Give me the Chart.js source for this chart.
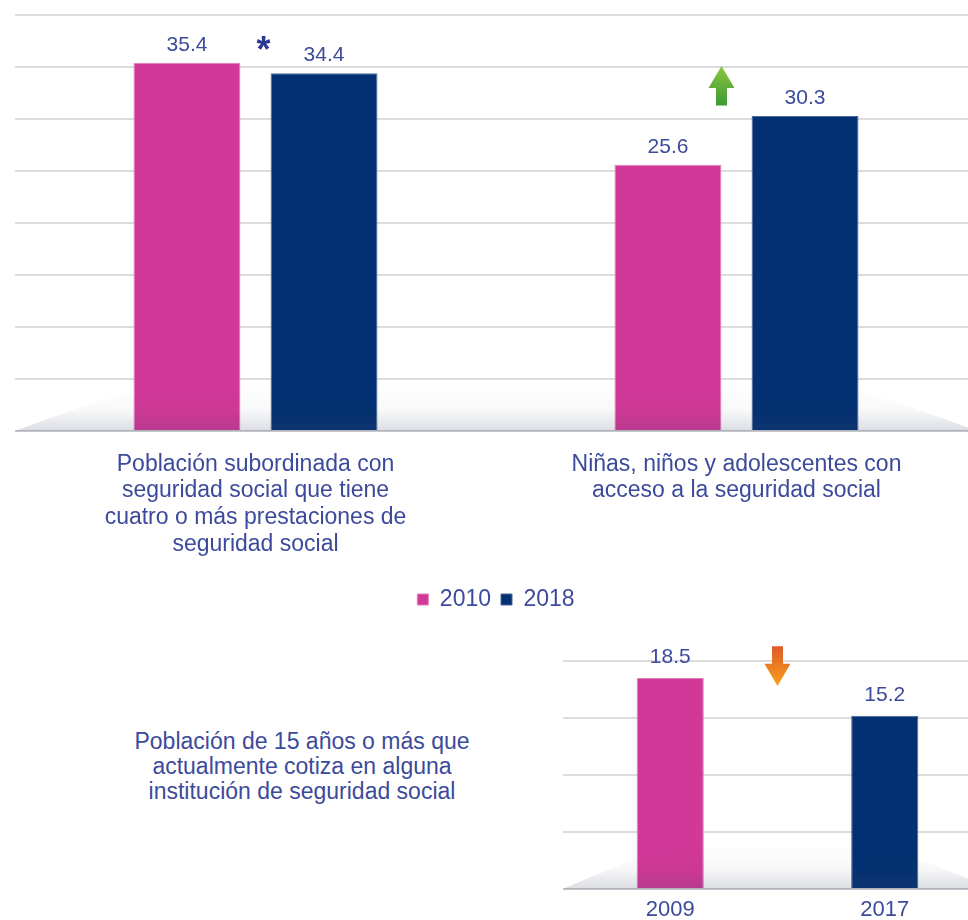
<!DOCTYPE html>
<html lang="es">
<head>
<meta charset="utf-8">
<title>Seguridad social</title>
<script src="https://cdn.jsdelivr.net/npm/chart.js@4.4.1/dist/chart.umd.min.js"></script>
<style>
  html, body { margin: 0; padding: 0; background: #fff; overflow: hidden; }
  body { width: 968px; height: 920px; position: relative; }
  #top-chart { position: absolute; left: 0; top: 0; }
  #bottom-chart { position: absolute; left: 0; top: 630px; }
  .side-note {
    position: absolute; left: 100px; width: 404px; top: 729px;
    text-align: center; color: #3c4a9b;
    font: 23px/25px "Liberation Sans", Arial, sans-serif;
  }
</style>
</head>
<body>
<canvas id="top-chart" width="977" height="621"></canvas>
<div class="side-note">Población de 15 años o más que<br>actualmente cotiza en alguna<br>institución de seguridad social</div>
<canvas id="bottom-chart" width="992" height="290"></canvas>
<script>
// datos
const TOP_CATEGORIES = [
  ["Población subordinada con", "seguridad social que tiene", "cuatro o más prestaciones de", "seguridad social"],
  ["Niñas, niños y adolescentes con", "acceso a la seguridad social"],
];
const SERIES_NAMES = ["2010", "2018"];
const VALUES_2010 = [35.4, 25.6];
const VALUES_2018 = [34.4, 30.3];
const TOP_AXIS = [0, 40, 5]; // min, max, paso

const BOTTOM_CATEGORIES = ["2009", "2017"];
const BOTTOM_VALUES = [18.5, 15.2];
const BOTTOM_AXIS = [0, 20, 5];

const FONT = '"Liberation Sans", Arial, sans-serif';
const TEXT = "#3c4a9b";
const PINK = "#d23897";
const PINK_EDGE = "#e27cbb";
const NAVY = "#023072";
const NAVY_EDGE = "#4a6598";

Chart.defaults.font.family = FONT;

// etiquetas de valor encima de cada barra
const valueLabels = {
  id: "valueLabels",
  afterDatasetsDraw(chart, args, opts) {
    const ctx = chart.ctx;
    ctx.save();
    ctx.font = opts.size + "px " + FONT;
    ctx.fillStyle = TEXT;
    ctx.textAlign = "center";
    ctx.textBaseline = "alphabetic";
    chart.data.datasets.forEach(function (ds, di) {
      chart.getDatasetMeta(di).data.forEach(function (bar, i) {
        ctx.fillText(ds.data[i].toFixed(1), bar.x, bar.y - opts.offset);
      });
    });
    ctx.restore();
  },
};

// sombra tipo "piso" en la base de la gráfica
const floorShade = {
  id: "floorShade",
  afterDatasetsDraw(chart, args, opts) {
    const ctx = chart.ctx;
    const a = chart.chartArea;
    const h = opts.height, c = opts.curve;
    const top = a.bottom - h;
    const g = ctx.createLinearGradient(0, top, 0, a.bottom);
    g.addColorStop(0, "rgba(60,70,100,0)");
    g.addColorStop(0.55, "rgba(60,70,100,0.04)");
    g.addColorStop(1, "rgba(60,70,100,0.18)");
    ctx.save();
    ctx.beginPath();
    ctx.moveTo(a.left, a.bottom);
    ctx.quadraticCurveTo(a.left + c * 0.5, a.bottom - h * 0.6, a.left + c, top);
    ctx.lineTo(a.right - c, top);
    ctx.quadraticCurveTo(a.right - c * 0.5, a.bottom - h * 0.6, a.right, a.bottom);
    ctx.closePath();
    ctx.fillStyle = g;
    ctx.fill();
    ctx.restore();
  },
};

function drawArrow(ctx, cx, yTop, yBottom, up, c1, c2) {
  const h = yBottom - yTop, headH = h * 0.56, headW = 26, shaftW = 11;
  const g = ctx.createLinearGradient(0, yTop, 0, yBottom);
  g.addColorStop(0, c1);
  g.addColorStop(1, c2);
  ctx.beginPath();
  if (up) {
    ctx.moveTo(cx, yTop);
    ctx.lineTo(cx + headW / 2, yTop + headH);
    ctx.lineTo(cx + shaftW / 2, yTop + headH);
    ctx.lineTo(cx + shaftW / 2, yBottom);
    ctx.lineTo(cx - shaftW / 2, yBottom);
    ctx.lineTo(cx - shaftW / 2, yTop + headH);
    ctx.lineTo(cx - headW / 2, yTop + headH);
  } else {
    ctx.moveTo(cx, yBottom);
    ctx.lineTo(cx + headW / 2, yBottom - headH);
    ctx.lineTo(cx + shaftW / 2, yBottom - headH);
    ctx.lineTo(cx + shaftW / 2, yTop);
    ctx.lineTo(cx - shaftW / 2, yTop);
    ctx.lineTo(cx - shaftW / 2, yBottom - headH);
    ctx.lineTo(cx - headW / 2, yBottom - headH);
  }
  ctx.closePath();
  ctx.fillStyle = g;
  ctx.fill();
}

// asterisco y flechas de tendencia
const markers = {
  id: "markers",
  afterDraw(chart, args, opts) {
    const ctx = chart.ctx;
    const xs = chart.scales.x, ys = chart.scales.y;
    ctx.save();
    (opts.items || []).forEach(function (m) {
      const cx = xs.getPixelForValue(m.index) + m.dx;
      if (m.type === "asterisk") {
        ctx.font = "bold 36px " + FONT;
        ctx.fillStyle = "#2b3990";
        ctx.textAlign = "center";
        ctx.textBaseline = "alphabetic";
        ctx.fillText("*", cx, ys.getPixelForValue(m.at) + 21);
      } else if (m.type === "up") {
        drawArrow(ctx, cx, ys.getPixelForValue(m.from), ys.getPixelForValue(m.to), true, "#8dc63f", "#3c9a35");
      } else {
        drawArrow(ctx, cx, ys.getPixelForValue(m.from), ys.getPixelForValue(m.to), false, "#e05a28", "#f8a01c");
      }
    });
    ctx.restore();
  },
};

function gridColor(c) {
  return c.tick && c.tick.value === 0 ? "#c6c7cb" : "#dcdcdc";
}

new Chart(document.getElementById("top-chart"), {
  type: "bar",
  data: {
    labels: TOP_CATEGORIES,
    datasets: [
      {
        label: SERIES_NAMES[0],
        data: VALUES_2010,
        backgroundColor: PINK,
        borderColor: PINK_EDGE,
        borderWidth: 1,
        categoryPercentage: 0.57,
        barPercentage: 0.78,
      },
      {
        label: SERIES_NAMES[1],
        data: VALUES_2018,
        backgroundColor: NAVY,
        borderColor: NAVY_EDGE,
        borderWidth: 1,
        categoryPercentage: 0.57,
        barPercentage: 0.78,
      },
    ],
  },
  options: {
    responsive: false,
    animation: false,
    layout: { padding: { top: 15, left: 15, right: 0, bottom: 0 } },
    scales: {
      x: {
        grid: { display: false, drawTicks: false },
        border: { display: false },
        ticks: {
          color: TEXT,
          font: { size: 23, lineHeight: 1.16 },
          padding: 20,
          maxRotation: 0,
          autoSkip: false,
        },
        afterFit: function (s) { s.height = 147; },
      },
      y: {
        min: TOP_AXIS[0],
        max: TOP_AXIS[1],
        ticks: { stepSize: TOP_AXIS[2], display: false },
        grid: { color: gridColor, lineWidth: 2, drawTicks: false },
        border: { display: false },
        afterFit: function (s) { s.width = 0; },
      },
    },
    plugins: {
      legend: {
        position: "bottom",
        labels: {
          boxWidth: 11,
          boxHeight: 11,
          color: TEXT,
          padding: 10,
          font: { size: 23 },
        },
      },
      tooltip: { enabled: false },
      valueLabels: { size: 21, offset: 12 },
      floorShade: { height: 45, curve: 140 },
      markers: {
        items: [
          { type: "asterisk", index: 0, dx: 8, at: 37.5 },
          { type: "up", index: 1, dx: -15, from: 35.1, to: 31.3 },
        ],
      },
    },
  },
  plugins: [valueLabels, floorShade, markers],
});

new Chart(document.getElementById("bottom-chart"), {
  type: "bar",
  data: {
    labels: BOTTOM_CATEGORIES,
    datasets: [
      {
        label: "cotiza",
        data: BOTTOM_VALUES,
        backgroundColor: [PINK, NAVY],
        borderColor: [PINK_EDGE, NAVY_EDGE],
        borderWidth: 1,
        categoryPercentage: 1,
        barPercentage: 0.313,
      },
    ],
  },
  options: {
    responsive: false,
    animation: false,
    layout: { padding: { top: 31, left: 563, right: 0, bottom: 0 } },
    scales: {
      x: {
        grid: { display: false, drawTicks: false },
        border: { display: false },
        ticks: { color: TEXT, font: { size: 22 }, padding: 8, maxRotation: 0 },
        afterFit: function (s) { s.height = 31; },
      },
      y: {
        min: BOTTOM_AXIS[0],
        max: BOTTOM_AXIS[1],
        ticks: { stepSize: BOTTOM_AXIS[2], display: false },
        grid: { color: gridColor, lineWidth: 2, drawTicks: false },
        border: { display: false },
        afterFit: function (s) { s.width = 0; },
      },
    },
    plugins: {
      legend: { display: false },
      tooltip: { enabled: false },
      valueLabels: { size: 21, offset: 15 },
      floorShade: { height: 45, curve: 120 },
      markers: {
        items: [{ type: "down", index: 0.5, dx: 0, from: 21.3, to: 17.8 }],
      },
    },
  },
  plugins: [valueLabels, floorShade, markers],
});
</script>
</body>
</html>
